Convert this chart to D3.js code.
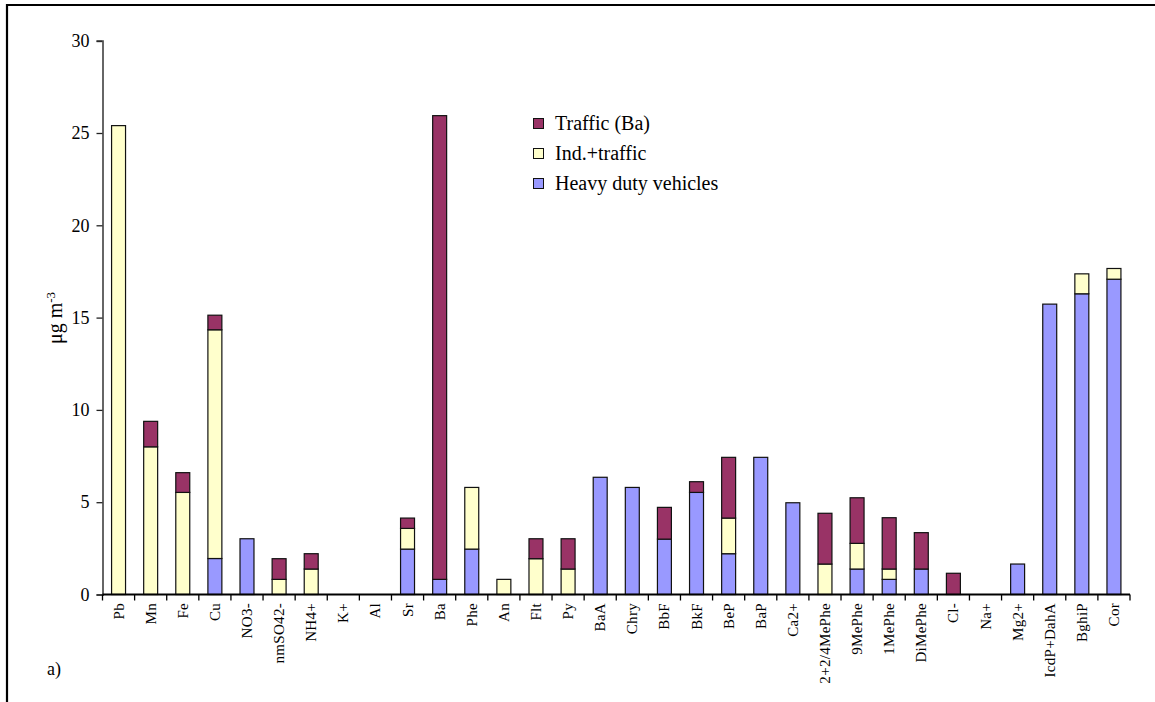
<!DOCTYPE html>
<html>
<head>
<meta charset="utf-8">
<script src="https://cdn.jsdelivr.net/npm/d3@7"></script>
<style>
  html, body { margin: 0; padding: 0; background: #fff; }
  svg { display: block; }
  svg text { font-family: "Liberation Serif", "Times New Roman", serif !important; fill: #000; }
</style>
</head>
<body>
<script>
// Source profile contributions per species (stacked: heavy duty at the bottom)
const categories = ["Pb","Mn","Fe","Cu","NO3-","nmSO42-","NH4+","K+","Al","Sr","Ba","Phe","An","Flt","Py",
  "BaA","Chry","BbF","BkF","BeP","BaP","Ca2+","2+2/4MePhe","9MePhe","1MePhe","DiMePhe","Cl-","Na+","Mg2+",
  "IcdP+DahA","BghiP","Cor"];
const heavyDuty = [0,0,0,1.95,3.02,0,0,0,0,2.46,0.82,2.46,0,0,0,6.35,5.8,3.0,5.53,2.21,7.43,4.97,0,1.38,0.82,1.38,0,0,1.65,15.73,16.29,17.08];
const indTraffic = [25.4,8.0,5.53,12.39,0,0.82,1.38,0,0,1.12,0,3.34,0.82,1.94,1.38,0,0,0,0,1.93,0,0,1.65,1.39,0.56,0,0,0,0,0,1.08,0.58];
const trafficBa = [0,1.38,1.07,0.79,0,1.12,0.83,0,0,0.56,25.12,0,0,1.08,1.64,0,0,1.72,0.58,3.29,0,0,2.75,2.47,2.78,1.97,1.15,0,0,0,0,0];
const yTicks = [0,5,10,15,20,25,30];

const seriesKeys = ["heavy","ind","traffic"];
const seriesNames = {traffic: "Traffic (Ba)", ind: "Ind.+traffic", heavy: "Heavy duty vehicles"};
const colors = {traffic: "#993366", ind: "#FFFFCC", heavy: "#9999FF"};

const rows = categories.map((c, i) => ({cat: c, heavy: heavyDuty[i], ind: indTraffic[i], traffic: trafficBa[i]}));

const W = 1155, H = 702;
const svg = d3.select("body").append("svg").attr("width", W).attr("height", H);

// outer frame (open to the right and bottom)
svg.append("path")
  .attr("d", `M7,${H + 5} V5 H${W + 5}`)
  .attr("fill", "none").attr("stroke", "#000").attr("stroke-width", 2.2);

const x0 = 102.5, x1 = 1130, yBottom = 594.5, yTop = 40.7;

const x = d3.scaleBand().domain(categories).range([x0, x1]).paddingInner(0.565).paddingOuter(0.2825);
const y = d3.scaleLinear().domain([0, 30]).range([yBottom, yTop]);

const stacked = d3.stack().keys(seriesKeys)(rows);

const g = svg.append("g");
stacked.forEach(layer => {
  g.selectAll(null)
    .data(layer.filter(d => d[1] - d[0] > 0))
    .join("rect")
    .attr("x", d => x(d.data.cat))
    .attr("width", x.bandwidth())
    .attr("y", d => y(d[1]))
    .attr("height", d => y(d[0]) - y(d[1]))
    .attr("fill", colors[layer.key])
    .attr("stroke", "#111")
    .attr("stroke-width", 1.2);
});

// y axis
const yAxis = svg.append("g")
  .attr("transform", `translate(${x0},0)`)
  .call(d3.axisLeft(y).tickValues(yTicks).tickSize(6).tickPadding(7).tickFormat(d3.format("d")));
yAxis.attr("font-family", null);
yAxis.select(".domain").attr("stroke", "#666").attr("stroke-width", 2);
yAxis.selectAll(".tick line").attr("stroke", "#222").attr("stroke-width", 1.3);
yAxis.selectAll(".tick text").style("font-size", "18px").attr("fill", "#000");

// x axis: line, ticks between categories, rotated labels
const xg = svg.append("g");
xg.append("line").attr("x1", x0).attr("x2", x1).attr("y1", yBottom).attr("y2", yBottom)
  .attr("stroke", "#000").attr("stroke-width", 2);
const step = x.step();
xg.selectAll("line.tk").data(d3.range(categories.length + 1)).join("line")
  .attr("class", "tk")
  .attr("x1", i => x0 + i * step).attr("x2", i => x0 + i * step)
  .attr("y1", yBottom).attr("y2", yBottom + 6)
  .attr("stroke", "#000").attr("stroke-width", 1.3);
xg.selectAll("text").data(categories).join("text")
  .attr("transform", d => `translate(${x(d) + x.bandwidth() / 2 + 5},603) rotate(-90)`)
  .attr("text-anchor", "end")
  .style("font-size", "15px")
  .style("letter-spacing", "0.3px")
  .text(d => d);

// y axis title
const yt = svg.append("text")
  .attr("transform", "translate(62,318) rotate(-90)")
  .attr("text-anchor", "middle")
  .style("font-size", "20px");
yt.append("tspan").text("\u03bcg m");
yt.append("tspan").attr("dy", "-0.55em").style("font-size", "13px").text("-3");

// legend
const legendItems = ["traffic", "ind", "heavy"];
const lg = svg.append("g").attr("transform", "translate(533.5,118.5)");
legendItems.forEach((k, i) => {
  const row = lg.append("g").attr("transform", `translate(0,${i * 30})`);
  row.append("rect").attr("width", 10).attr("height", 10)
    .attr("fill", colors[k]).attr("stroke", "#111").attr("stroke-width", 1);
  row.append("text").attr("x", 21.5).attr("y", 11).style("font-size", "20px").text(seriesNames[k]);
});

// panel tag
svg.append("text").attr("x", 47).attr("y", 675).style("font-size", "18px").text("a)");
</script>
</body>
</html>
